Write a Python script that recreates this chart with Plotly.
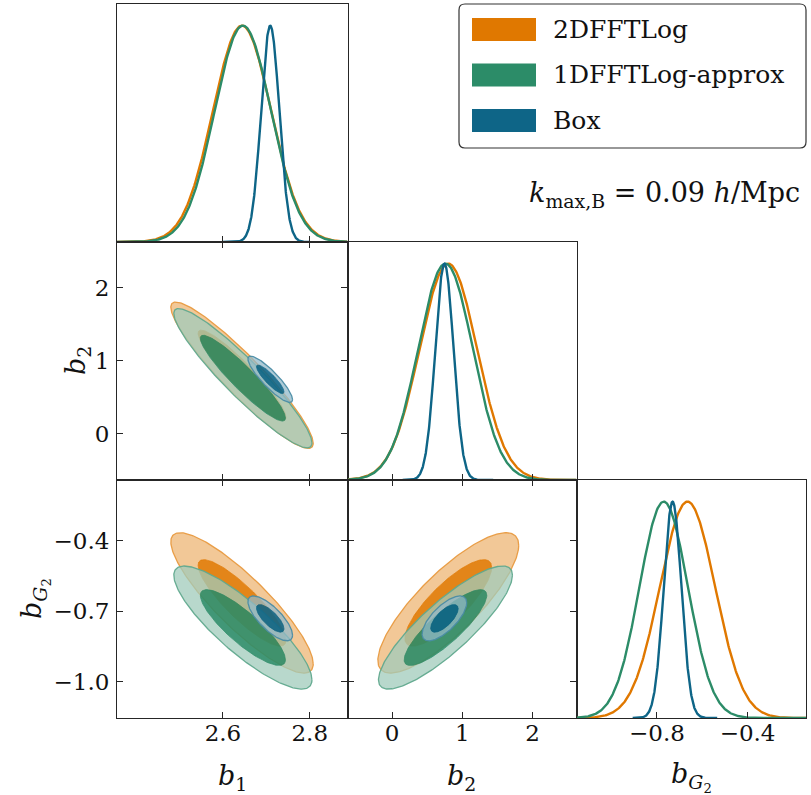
import numpy as np
import plotly.graph_objects as go

W, H = 811, 795

# ---------------- data ----------------
param_labels = ["<i>b</i><sub>1</sub>", "<i>b</i><sub>2</sub>",
                "<i>b</i><sub><i>G</i><sub>2</sub></sub>"]
names = ["2DFFTLog", "1DFFTLog-approx", "Box"]
colors = [(224, 120, 0), (44, 140, 104), (14, 101, 135)]

# posterior means  [b1, b2, bG2]
mean_2dfftlog = [2.644, 0.80, -0.665]
mean_1dfftlog = [2.646, 0.76, -0.770]
mean_box = [2.709, 0.745, -0.731]
# posterior standard deviations [b1, b2, bG2]
sigma_2dfftlog = [0.067, 0.41, 0.122]
sigma_1dfftlog = [0.065, 0.39, 0.107]
sigma_box = [0.021, 0.13, 0.039]
# correlation coefficients [b1-b2, b1-bG2, b2-bG2]
corr_2dfftlog = [-0.93, -0.87, 0.82]
corr_1dfftlog = [-0.93, -0.85, 0.85]
corr_box = [-0.88, -0.75, 0.70]
# sampled range of the 1D marginals (None = whole axis)
lo_box = [2.60, 0.15, -0.907]
hi_box = [2.80, 1.44, -0.534]

axis_ranges = [[2.356, 2.887], [-0.636, 2.627], [-1.155, -0.142]]
tickvals_x = [[2.6, 2.8], [0, 1, 2], [-0.8, -0.4]]
ticktext_x = [["2.6", "2.8"], ["0", "1", "2"], ["\u22120.8", "\u22120.4"]]
tickvals_y = [None, [0, 1, 2], [-1.0, -0.7, -0.4]]
ticktext_y = [None, ["0", "1", "2"], ["\u22121.0", "\u22120.7", "\u22120.4"]]

kmax_text = "<i>k</i><sub>max,B</sub> = 0.09 <i>h</i>/Mpc"

datasets = [
    dict(mean=mean_2dfftlog, sigma=sigma_2dfftlog, corr=corr_2dfftlog, lo=None, hi=None),
    dict(mean=mean_1dfftlog, sigma=sigma_1dfftlog, corr=corr_1dfftlog, lo=None, hi=None),
    dict(mean=mean_box, sigma=sigma_box, corr=corr_box, lo=lo_box, hi=hi_box),
]
pair_index = {(0, 1): 0, (0, 2): 1, (1, 2): 2}

# ---------------- layout geometry (pixels) ----------------
col_px = [117, 347.5, 576.5, 806]
row_px = [4, 242, 480, 718]
FONT = "DejaVu Serif"
AX = "#262626"


def xdom(c):
    return [col_px[c] / W, col_px[c + 1] / W]


def ydom(r):
    return [1 - row_px[r + 1] / H, 1 - row_px[r] / H]


def rgba(c, a):
    return "rgba(%d,%d,%d,%.3f)" % (c[0], c[1], c[2], a)


def light(c, f):
    return tuple(int(round(f * v + (1 - f) * 255)) for v in c)


fig = go.Figure()
layout = {}

panels = []  # (row, col, k)
k = 0
for r in range(3):
    for c in range(r + 1):
        k += 1
        panels.append((r, c, k))

R68 = np.sqrt(-2 * np.log(1 - 0.68))
R95 = np.sqrt(-2 * np.log(1 - 0.95))
t = np.linspace(0, 2 * np.pi, 241)

for r, c, k in panels:
    xa = "x" if k == 1 else "x%d" % k
    ya = "y" if k == 1 else "y%d" % k
    if r == c:
        # 1D marginal
        for d, col in zip(datasets, colors):
            m, s = d["mean"][c], d["sigma"][c]
            lo = axis_ranges[c][0] if d["lo"] is None else d["lo"][c]
            hi = axis_ranges[c][1] if d["hi"] is None else d["hi"][c]
            xs = np.linspace(lo, hi, 400)
            ys = np.exp(-0.5 * ((xs - m) / s) ** 2)
            fig.add_trace(go.Scatter(x=xs, y=ys, mode="lines", xaxis=xa, yaxis=ya,
                                     line=dict(color=rgba(col, 1), width=2.4),
                                     showlegend=False, hoverinfo="skip"))
    else:
        i, j = c, r  # x param, y param
        for n, (d, col) in enumerate(zip(datasets, colors)):
            mx, my = d["mean"][i], d["mean"][j]
            sx, sy = d["sigma"][i], d["sigma"][j]
            rho = d["corr"][pair_index[(i, j)]]
            cov = np.array([[sx * sx, rho * sx * sy], [rho * sx * sy, sy * sy]])
            L = np.linalg.cholesky(cov)
            u = np.vstack([np.cos(t), np.sin(t)])
            e95 = L @ (R95 * u)
            e68 = L @ (R68 * u)
            ox, oy = mx + e95[0], my + e95[1]
            ix, iy = mx + e68[0], my + e68[1]
            # ring between 68% and 95%
            rx = np.concatenate([ox, ix[::-1], [ox[0]]])
            ry = np.concatenate([oy, iy[::-1], [oy[0]]])
            a_out = 0.75 if n > 0 else 0.9
            fig.add_trace(go.Scatter(x=rx, y=ry, mode="lines", fill="toself",
                                     xaxis=xa, yaxis=ya, line=dict(width=0),
                                     fillcolor=rgba(light(col, 0.45), a_out),
                                     showlegend=False, hoverinfo="skip"))
            fig.add_trace(go.Scatter(x=ix, y=iy, mode="lines", fill="toself",
                                     xaxis=xa, yaxis=ya,
                                     line=dict(width=0.8, color=rgba(col, 0.9)),
                                     fillcolor=rgba(col, 0.9),
                                     showlegend=False, hoverinfo="skip"))
            fig.add_trace(go.Scatter(x=ox, y=oy, mode="lines",
                                     xaxis=xa, yaxis=ya,
                                     line=dict(width=1.3, color=rgba(light(col, 0.75), 0.95)),
                                     showlegend=False, hoverinfo="skip"))

    xkey = "xaxis" if k == 1 else "xaxis%d" % k
    ykey = "yaxis" if k == 1 else "yaxis%d" % k
    diag = (r == c)
    layout[xkey] = dict(
        domain=xdom(c), anchor=ya, range=axis_ranges[c],
        showline=True, linecolor=AX, linewidth=1.1,
        mirror=True if diag else "ticks",
        ticks="inside", ticklen=6, tickwidth=1, tickcolor=AX,
        tickvals=tickvals_x[c], ticktext=ticktext_x[c],
        showticklabels=(r == 2), showgrid=False, zeroline=False,
        ticklabelstandoff=-6,
        tickfont=dict(family=FONT, size=23, color="#111"),
    )
    if diag:
        layout[ykey] = dict(domain=ydom(r), anchor=xa, range=[0, 1.1],
                            showline=True, linecolor=AX, linewidth=1.1, mirror=True,
                            ticks="", showticklabels=False, showgrid=False, zeroline=False)
    else:
        layout[ykey] = dict(
            domain=ydom(r), anchor=xa, range=axis_ranges[r],
            showline=True, linecolor=AX, linewidth=1.1, mirror="ticks",
            ticks="inside", ticklen=6, tickwidth=1, tickcolor=AX,
            tickvals=tickvals_y[r], ticktext=ticktext_y[r],
            showticklabels=(c == 0), showgrid=False, zeroline=False,
            ticklabelstandoff=2,
            tickfont=dict(family=FONT, size=23, color="#111"),
        )

# ---------------- axis titles ----------------
annotations = []
for c, cx in enumerate([232, 462, 691]):
    annotations.append(dict(text=param_labels[c], x=cx / W, y=1 - 777 / H,
                            xref="paper", yref="paper", xanchor="center", yanchor="middle",
                            showarrow=False, font=dict(family=FONT, size=27, color="#111")))
for r, cx in [(1, 77), (2, 35)]:
    cy = (row_px[r] + row_px[r + 1]) / 2
    annotations.append(dict(text=param_labels[r], x=cx / W, y=1 - cy / H,
                            xref="paper", yref="paper", xanchor="center", yanchor="middle",
                            textangle=-90, showarrow=False,
                            font=dict(family=FONT, size=27, color="#111")))

# k_max label
annotations.append(dict(text=kmax_text, x=802 / W, y=1 - 195 / H, xref="paper", yref="paper",
                        xanchor="right", yanchor="middle", showarrow=False,
                        font=dict(family=FONT, size=27, color="#111")))

# ---------------- legend (drawn manually) ----------------
shapes = []
lx0, ly0, lx1, ly1, rad = 459, 4, 806, 148, 6


def px(xv):
    return xv / W


def py(yv):
    return 1 - yv / H


path = ("M {a},{b} L {c},{b} Q {x1},{b} {x1},{d} L {x1},{e} Q {x1},{y1} {c},{y1} "
        "L {a},{y1} Q {x0},{y1} {x0},{e} L {x0},{d} Q {x0},{b} {a},{b} Z").format(
    a=px(lx0 + rad), b=py(ly0), c=px(lx1 - rad), d=py(ly0 + rad), e=py(ly1 - rad),
    x0=px(lx0), x1=px(lx1), y1=py(ly1))
shapes.append(dict(type="path", path=path, xref="paper", yref="paper",
                   line=dict(color="#333", width=1.2), fillcolor="rgba(255,255,255,0.9)"))
for n, (name, col) in enumerate(zip(names, colors)):
    cy = 29.5 + 45.5 * n
    shapes.append(dict(type="rect", xref="paper", yref="paper",
                       x0=px(472), x1=px(536), y0=py(cy - 11.5), y1=py(cy + 11.5),
                       line=dict(width=0), fillcolor=rgba(col, 1)))
    annotations.append(dict(text=name, x=px(551), y=py(cy), xref="paper", yref="paper",
                            xanchor="left", yanchor="middle", showarrow=False,
                            font=dict(family=FONT, size=25, color="#111")))

fig.update_layout(
    width=W, height=H, margin=dict(l=0, r=0, t=0, b=0),
    paper_bgcolor="white", plot_bgcolor="white", showlegend=False,
    annotations=annotations, shapes=shapes, **layout)

fig.write_html("out.html")
